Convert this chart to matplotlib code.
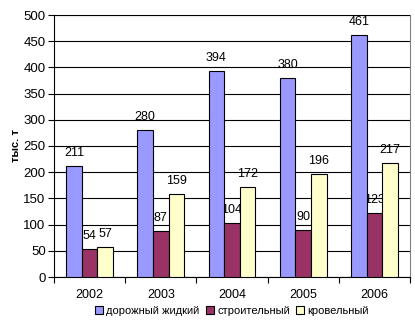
import matplotlib.pyplot as plt
import numpy as np

plt.rcParams['font.family'] = ['Liberation Sans', 'DejaVu Sans']

years = ['2002', '2003', '2004', '2005', '2006']
series_names = ['дорожный жидкий', 'строительный', 'кровельный']
road = [211, 280, 394, 380, 461]
building = [54, 87, 104, 90, 123]
roofing = [57, 159, 172, 196, 217]
colors = ['#9999FF', '#993366', '#FFFFCC']

fig = plt.figure(figsize=(4.15, 3.26), dpi=100)
ax = fig.add_axes([54 / 415, 1 - 277 / 326, (410 - 54) / 415, (277 - 15) / 326])

x = np.arange(len(years))
w = 0.22
for k, (vals, name, c) in enumerate(zip([road, building, roofing], series_names, colors)):
    pos = x + (k - 1) * w
    ax.bar(pos, vals, width=w, color=c, edgecolor='black', linewidth=0.8,
           label=name, zorder=3)
    for px, v in zip(pos, vals):
        ax.annotate(str(v), (px, v), xytext=(0, 5), textcoords='offset points',
                    ha='center', va='bottom', fontsize=9, zorder=1)

ax.set_xlim(-0.5, len(years) - 0.5)
ax.set_ylim(0, 500)
ax.set_yticks(np.arange(0, 501, 50))
ax.yaxis.grid(True, color='black', linewidth=0.8, zorder=2)
ax.set_axisbelow(False)

# boundaries get the ticks, centres get the year labels
ax.set_xticks(np.arange(-0.5, len(years), 1.0))
ax.set_xticklabels([])
ax.set_xticks(x, minor=True)
ax.set_xticklabels(years, minor=True)
ax.tick_params(axis='x', which='minor', length=0, pad=9, labelsize=9)
ax.tick_params(axis='x', which='major', length=4, width=0.8)
ax.tick_params(axis='y', length=4, width=0.8, labelsize=9.5, pad=2)

for side in ['top', 'right']:
    ax.spines[side].set_color('#808080')
for side in ['left', 'bottom']:
    ax.spines[side].set_color('black')
for s in ax.spines.values():
    s.set_linewidth(0.8)

ax.set_ylabel('тыс. т', fontweight='bold', fontsize=8, labelpad=2)

ax.legend(loc='center', bbox_to_anchor=(0.5, -0.13), ncol=3, frameon=False,
          fontsize=8, handlelength=0.7, handleheight=0.7, handletextpad=0.3,
          columnspacing=0.6, borderaxespad=0)

fig.savefig('out.png', dpi=100, facecolor='white')
